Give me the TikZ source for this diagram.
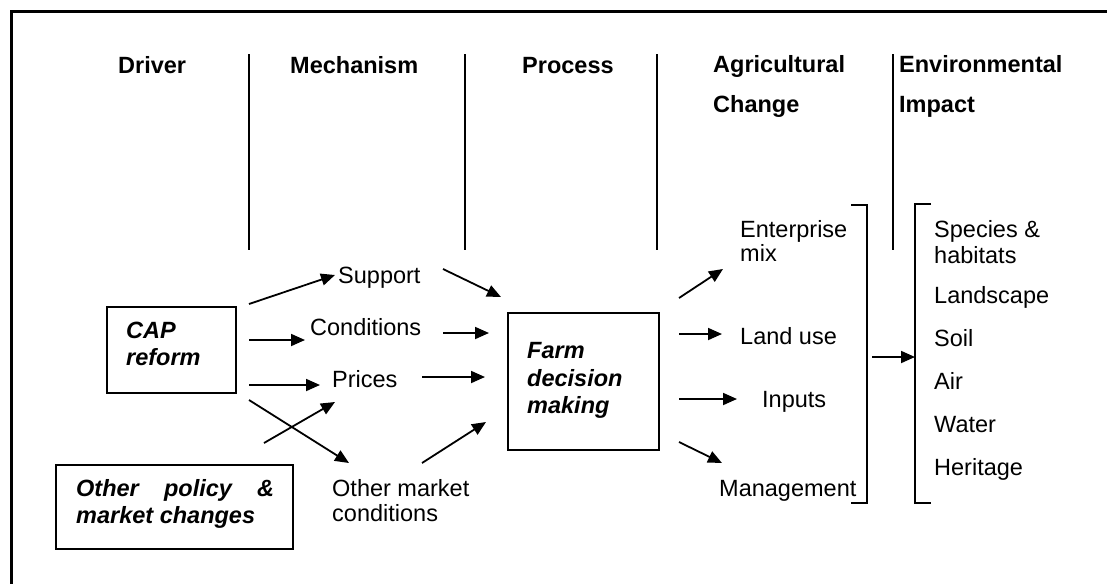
\documentclass[tikz,border=0pt]{standalone}
\usepackage{fontspec}
\setmainfont{Liberation Sans}
\usetikzlibrary{arrows.meta}
\begin{document}
\begin{tikzpicture}[x=1pt,y=-1pt,
  lbl/.style={anchor=base west, inner sep=0pt, font=\fontsize{23.5}{28}\selectfont},
  hdr/.style={anchor=base west, inner sep=0pt, font=\fontsize{23.5}{28}\selectfont\bfseries},
  itl/.style={anchor=base west, inner sep=0pt, font=\fontsize{23.5}{28}\selectfont\bfseries\itshape},
  box/.style={draw, line width=2pt, rectangle, anchor=north west, inner sep=0pt},
  arr/.style={line width=1.8pt, -{Triangle[length=14pt,width=12pt]}},
  sepline/.style={line width=2pt},
  brk/.style={line width=2pt}]
\useasboundingbox (0,0) rectangle (1107,584);
\draw[line width=3pt, line join=miter] (1107,11) -- (11,11) -- (11,584);

% headers
\node[hdr] (hdriver) at (118,73) {Driver};
\node[hdr] (hmech) at (290,73) {Mechanism};
\node[hdr] (hproc) at (522,73) {Process};
\node[hdr] (hagri1) at (713,72) {Agricultural};
\node[hdr] (hagri2) at (713,112) {Change};
\node[hdr] (henv1) at (899,72) {Environmental};
\node[hdr] (henv2) at (899,112) {Impact};

% separators
\draw[sepline] (249,54) -- (249,250);
\draw[sepline] (465,54) -- (465,250);
\draw[sepline] (657,54) -- (657,250);
\draw[sepline] (893,54) -- (893,250);

% boxes
\node[box, minimum width=129pt, minimum height=86pt] (cap) at (106,306) {};
\node[box, minimum width=237pt, minimum height=84pt] (other) at (55,464) {};
\node[box, minimum width=151pt, minimum height=137pt] (farm) at (507,312) {};

\node[itl] (capA) at (126,338) {CAP};
\node[itl] (capB) at (126,365) {reform};
\node[itl] (othA) at (76,496) {\hbox to 198pt{Other\hfill policy\hfill\&}};
\node[itl] (othB) at (76,523) {market changes};
\node[itl] (farmA) at (527,358) {Farm};
\node[itl] (farmB) at (527,386) {decision};
\node[itl] (farmC) at (527,413) {making};

% mechanisms
\node[lbl] (support) at (338,283) {Support};
\node[lbl] (cond) at (310,335) {Conditions};
\node[lbl] (prices) at (332,387) {Prices};
\node[lbl] (omkA) at (332,496) {Other market};
\node[lbl] (omkB) at (332,521) {conditions};

% agricultural change
\node[lbl] (entA) at (740,237) {Enterprise};
\node[lbl] (entB) at (740,261) {mix};
\node[lbl] (land) at (740,344) {Land use};
\node[lbl] (inputs) at (762,407) {Inputs};
\node[lbl] (manag) at (719,496) {Management};

% environmental impact
\node[lbl] (spA) at (934,237) {Species \&};
\node[lbl] (spB) at (934,263) {habitats};
\node[lbl] (lands) at (934,303) {Landscape};
\node[lbl] (soil) at (934,346) {Soil};
\node[lbl] (air) at (934,389) {Air};
\node[lbl] (water) at (934,432) {Water};
\node[lbl] (herit) at (934,475) {Heritage};

% brackets
\draw[brk] (851,205) -- (867,205) -- (867,503) -- (851,503);
\draw[brk] (931,204) -- (915,204) -- (915,503) -- (931,503);
\coordinate (brR) at (872,357);
\coordinate (brL) at (915,357);
\draw[arr] (brR) -- (brL);

% arrow end points
\coordinate (a1s) at (249,304); \coordinate (a1e) at (335,275);
\coordinate (a2s) at (249,340); \coordinate (a2e) at (305,340);
\coordinate (a3s) at (249,385); \coordinate (a3e) at (320,385);
\coordinate (a4s) at (249,400); \coordinate (a4e) at (349,463);
\coordinate (a5s) at (264,443); \coordinate (a5e) at (335,402);
\coordinate (b1s) at (443,269); \coordinate (b1e) at (501,297);
\coordinate (b2s) at (443,333); \coordinate (b2e) at (489,333);
\coordinate (b3s) at (422,377); \coordinate (b3e) at (485,377);
\coordinate (b4s) at (422,463); \coordinate (b4e) at (486,422);
\coordinate (c1s) at (679,298); \coordinate (c1e) at (723,269);
\coordinate (c2s) at (679,334); \coordinate (c2e) at (722,334);
\coordinate (c3s) at (679,399); \coordinate (c3e) at (737,399);
\coordinate (c4s) at (679,442); \coordinate (c4e) at (722,463);

\draw[arr] (a1s) -- (a1e);
\draw[arr] (a2s) -- (a2e);
\draw[arr] (a3s) -- (a3e);
\draw[arr] (a4s) -- (a4e);
\draw[arr] (a5s) -- (a5e);
\draw[arr] (b1s) -- (b1e);
\draw[arr] (b2s) -- (b2e);
\draw[arr] (b3s) -- (b3e);
\draw[arr] (b4s) -- (b4e);
\draw[arr] (c1s) -- (c1e);
\draw[arr] (c2s) -- (c2e);
\draw[arr] (c3s) -- (c3e);
\draw[arr] (c4s) -- (c4e);
\end{tikzpicture}
\end{document}
